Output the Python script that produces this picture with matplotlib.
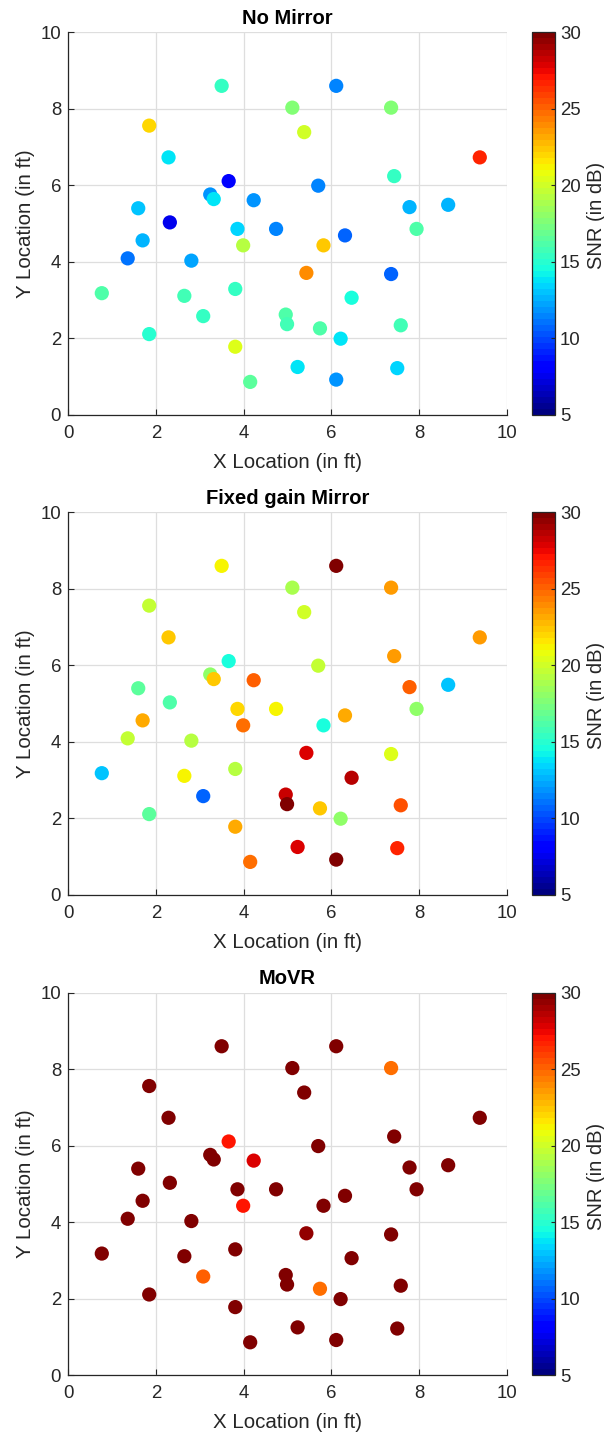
import numpy as np
import matplotlib
matplotlib.use("Agg")
import matplotlib.pyplot as plt
from matplotlib.colors import Normalize

plt.rcParams['font.family'] = ['Liberation Sans', 'DejaVu Sans']

# Receiver locations (ft)
x_loc = [3.50, 6.11, 5.11, 7.36, 1.85, 5.38, 2.29, 9.38, 3.66, 7.43,
         5.70, 3.24, 3.32, 4.23, 1.60, 7.78, 8.66, 2.32, 1.70, 3.86,
         4.74, 6.31, 7.94, 3.99, 5.82, 1.36, 2.81, 5.43, 7.36, 0.77,
         2.65, 3.81, 6.46, 3.08, 4.96, 4.99, 5.74, 7.58, 1.85, 6.21,
         3.81, 5.23, 7.50, 4.15, 6.11]
y_loc = [8.60, 8.60, 8.03, 8.03, 7.56, 7.39, 6.73, 6.73, 6.11, 6.24,
         5.99, 5.76, 5.64, 5.61, 5.40, 5.43, 5.49, 5.03, 4.56, 4.86,
         4.86, 4.69, 4.86, 4.43, 4.43, 4.09, 4.03, 3.71, 3.68, 3.18,
         3.11, 3.29, 3.06, 2.58, 2.62, 2.37, 2.26, 2.34, 2.11, 1.99,
         1.78, 1.25, 1.22, 0.86, 0.92]

# SNR (dB) per scenario
snr_no_mirror = [15.5, 11.5, 17.5, 17.5, 21.9, 19.9, 13.6, 26.7, 7.8, 15.2,
                 11.3, 11.9, 13.8, 11.7, 13.0, 12.6, 12.5, 7.5, 12.6, 13.5,
                 11.3, 10.6, 16.0, 19.1, 22.5, 11.0, 12.1, 23.8, 10.6, 16.0,
                 15.7, 15.3, 14.4, 15.2, 16.0, 15.6, 16.3, 15.6, 14.8, 13.6,
                 20.3, 13.6, 13.4, 16.7, 11.9]
snr_fixed = [21.4, 30.0, 18.7, 23.4, 19.5, 19.9, 22.4, 23.4, 14.6, 23.5,
             19.5, 18.2, 22.2, 25.1, 16.7, 25.3, 13.1, 16.0, 23.0, 22.0,
             21.4, 23.0, 18.2, 24.9, 14.4, 19.8, 19.1, 27.7, 20.3, 13.1,
             21.4, 19.1, 28.8, 10.6, 28.1, 29.8, 22.5, 25.7, 16.7, 18.2,
             23.0, 27.7, 26.6, 24.8, 29.9]
snr_movr = [30.0, 30.0, 30.0, 24.8, 30.0, 30.0, 30.0, 30.0, 27.0, 30.0,
            30.0, 30.0, 30.0, 27.7, 30.0, 30.0, 30.0, 30.0, 30.0, 30.0,
            30.0, 30.0, 30.0, 26.9, 30.0, 30.0, 30.0, 29.6, 30.0, 30.0,
            30.0, 30.0, 30.0, 25.2, 29.7, 30.0, 24.8, 30.0, 30.0, 30.0,
            30.0, 30.0, 30.0, 30.0, 30.0]

titles = ["No Mirror", "Fixed gain Mirror", "MoVR"]
ticks = [0, 2, 4, 6, 8, 10]
cbar_ticks = [5, 10, 15, 20, 25, 30]

W, H = 604, 1435
fig = plt.figure(figsize=(W / 100, H / 100), dpi=100)
cmap = plt.get_cmap('jet', 64)
norm = Normalize(vmin=5, vmax=30)
dark = '#262626'

tops = [32.3, 512.3, 992.7]
ax_left, ax_w, ax_h = 68.0, 439.0, 382.5
cb_left, cb_w = 531.5, 23.0

for top, title, snr in zip(tops, titles, [snr_no_mirror, snr_fixed, snr_movr]):
    ax = fig.add_axes([ax_left / W, (H - top - ax_h) / H, ax_w / W, ax_h / H])
    sc = ax.scatter(x_loc, y_loc, c=snr, cmap=cmap, norm=norm, s=105,
                    edgecolors='none', zorder=3)
    ax.set_xlim(0, 10)
    ax.set_ylim(0, 10)
    ax.set_xticks(ticks)
    ax.set_yticks(ticks)
    ax.grid(True, color='#dedede', linewidth=0.9, zorder=0)
    ax.set_axisbelow(True)
    for s in ['top', 'right']:
        ax.spines[s].set_visible(False)
    for s in ['left', 'bottom']:
        ax.spines[s].set_color(dark)
        ax.spines[s].set_linewidth(0.9)
    ax.tick_params(direction='in', length=4, width=0.8, colors=dark,
                   labelsize=13.4)
    ax.tick_params(axis='x', pad=7)
    ax.tick_params(axis='y', pad=5)
    ax.set_xlabel("X Location (in ft)", fontsize=14.8, color=dark, labelpad=8)
    ax.set_ylabel("Y Location (in ft)", fontsize=14.8, color=dark, labelpad=4)
    ax.set_title(title, fontsize=14.5, fontweight='bold', color='black', pad=6)

    cax = fig.add_axes([cb_left / W, (H - top - ax_h) / H, cb_w / W, ax_h / H])
    cb = fig.colorbar(sc, cax=cax, ticks=cbar_ticks)
    cb.outline.set_edgecolor(dark)
    cb.outline.set_linewidth(0.9)
    cax.tick_params(direction='in', length=3, width=0.8, colors=dark,
                    labelsize=13.4, pad=4)
    cb.set_label("SNR (in dB)", fontsize=14.5, color=dark, labelpad=4.5)
    cax.yaxis.label.set_y(0.5 + 8.0 / ax_h)

fig.savefig("out.png", dpi=100, facecolor='white')
